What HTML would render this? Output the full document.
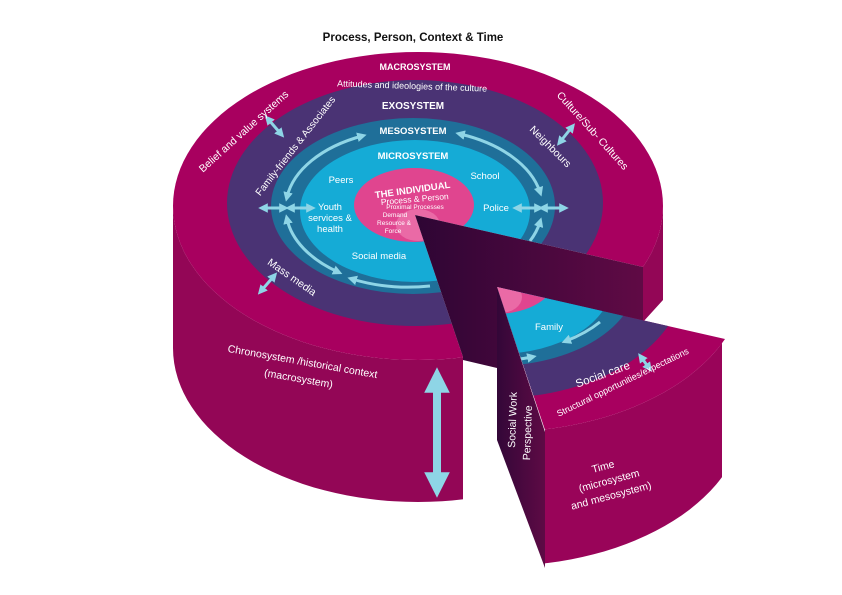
<!DOCTYPE html>
<html><head><meta charset="utf-8"><style>
html,body{margin:0;padding:0;background:#fff;}
svg{display:block;}
text{font-family:"Liberation Sans",sans-serif;fill:#fff;}
</style></head><body>
<svg width="842" height="595" viewBox="0 0 842 595" xmlns="http://www.w3.org/2000/svg">
<defs>
<marker id="ah" viewBox="0 0 10 10" refX="5" refY="5" markerWidth="3.2" markerHeight="3.2" orient="auto-start-reverse">
<path d="M0,0 L10,5 L0,10 Z" fill="#8ed5e6"/></marker>
<linearGradient id="dk" x1="0" y1="0" x2="1" y2="0"><stop offset="0" stop-color="#2e0534"/><stop offset="1" stop-color="#600a45"/></linearGradient>
<linearGradient id="dk2" x1="0" y1="0" x2="1" y2="0"><stop offset="0" stop-color="#330738"/><stop offset="1" stop-color="#5e0a45"/></linearGradient>
<clipPath id="pieceTop"><polygon points="497,287 725,339 725,480 545,480 545,430"/></clipPath>
<clipPath id="pieceSide"><polygon points="545,300 722,300 722,600 545,600"/></clipPath>
</defs>

<text x="413" y="41" text-anchor="middle" style="fill:#111;font-weight:bold;font-size:11.5px">Process, Person, Context &amp; Time</text>

<path d="M173,206 A245,154 0 0 0 663,206 L663,348 A245,154 0 0 1 173,348 Z" fill="#930656"/>
<ellipse cx="418" cy="206" rx="245" ry="154" fill="#a8005f"/>
<ellipse cx="415" cy="203" rx="188" ry="123" fill="#4a3374"/>
<ellipse cx="413" cy="206" rx="142" ry="88" fill="#1f6f99"/>
<ellipse cx="415" cy="211" rx="115" ry="71" fill="#15abd6"/>
<ellipse cx="414" cy="205" rx="60" ry="37" fill="#e0458f"/>
<ellipse cx="418" cy="225" rx="22" ry="16" fill="#ea6aa6"/>

<g fill="none" stroke="#8ed5e6" stroke-width="3">
<path d="M362,136 A128,79 0 0 0 287,197" marker-start="url(#ah)" marker-end="url(#ah)"/>
<path d="M460,134 A128,79 0 0 1 540,192" marker-start="url(#ah)" marker-end="url(#ah)"/>
<path d="M287,219 A128,79 0 0 0 338,272" marker-start="url(#ah)" marker-end="url(#ah)"/>
<path d="M430,286 A128,79 0 0 1 352,279" marker-end="url(#ah)"/>
<path d="M530,241 A128,79 0 0 0 540,222" marker-end="url(#ah)"/>
<line x1="263" y1="208" x2="284" y2="208" marker-start="url(#ah)" marker-end="url(#ah)"/>
<line x1="290" y1="208" x2="311" y2="208" marker-start="url(#ah)" marker-end="url(#ah)"/>
<line x1="517" y1="208" x2="539" y2="208" marker-start="url(#ah)" marker-end="url(#ah)"/>
<line x1="543" y1="208" x2="564" y2="208" marker-start="url(#ah)" marker-end="url(#ah)"/>
<line x1="268" y1="119" x2="281" y2="134" marker-start="url(#ah)" marker-end="url(#ah)"/>
<line x1="572" y1="127" x2="560" y2="142" marker-start="url(#ah)" marker-end="url(#ah)"/>
<line x1="274" y1="276" x2="261" y2="291" marker-start="url(#ah)" marker-end="url(#ah)"/>
</g>

<text x="415" y="70" text-anchor="middle" style="font-weight:bold;font-size:9px">MACROSYSTEM</text>
<text x="412" y="89" text-anchor="middle" transform="rotate(2 412 89)" style="font-size:9px">Attitudes and ideologies of the culture</text>
<text x="246" y="134" text-anchor="middle" transform="rotate(-42 246 134)" style="font-size:10.5px">Belief and value systems</text>
<text x="590" y="133" text-anchor="middle" transform="rotate(48 590 133)" style="font-size:10.5px">Culture/Sub- Cultures</text>
<text x="413" y="109" text-anchor="middle" style="font-weight:bold;font-size:10px">EXOSYSTEM</text>
<text x="298" y="148" text-anchor="middle" transform="rotate(-52 298 148)" style="font-size:10px">Family-friends &amp; Associates</text>
<text x="548" y="149" text-anchor="middle" transform="rotate(45 548 149)" style="font-size:10.5px">Neighbours</text>
<text x="413" y="134" text-anchor="middle" style="font-weight:bold;font-size:9.5px">MESOSYSTEM</text>
<text x="413" y="159" text-anchor="middle" style="font-weight:bold;font-size:9.5px">MICROSYSTEM</text>
<text x="341" y="183" text-anchor="middle" style="font-size:9.5px">Peers</text>
<text x="485" y="179" text-anchor="middle" style="font-size:9.5px">School</text>
<text x="330" y="210" text-anchor="middle" style="font-size:9.5px">Youth</text>
<text x="330" y="221" text-anchor="middle" style="font-size:9.5px">services &amp;</text>
<text x="330" y="232" text-anchor="middle" style="font-size:9.5px">health</text>
<text x="496" y="211" text-anchor="middle" style="font-size:9.5px">Police</text>
<text x="379" y="259" text-anchor="middle" style="font-size:9.5px">Social media</text>
<text x="413" y="193" text-anchor="middle" transform="rotate(-8 413 193)" style="font-weight:bold;font-size:9.5px">THE INDIVIDUAL</text>
<text x="415" y="202" text-anchor="middle" transform="rotate(-5 415 202)" style="font-size:8.5px">Process &amp; Person</text>
<text x="415" y="209" text-anchor="middle" style="font-size:6.5px">Proximal Processes</text>
<text x="395" y="217" text-anchor="middle" style="font-size:6.5px">Demand</text>
<text x="394" y="225" text-anchor="middle" style="font-size:6.5px">Resource &amp;</text>
<text x="393" y="233" text-anchor="middle" style="font-size:6.5px">Force</text>
<text x="290" y="280" text-anchor="middle" transform="rotate(35 290 280)" style="font-size:10.5px">Mass media</text>
<text x="302" y="365" text-anchor="middle" transform="rotate(10 302 365)" style="font-size:10.5px">Chronosystem /historical context</text>
<text x="298" y="382" text-anchor="middle" transform="rotate(10 298 382)" style="font-size:10.5px">(macrosystem)</text>

<line x1="437" y1="380" x2="437" y2="485" stroke="#8ed5e6" stroke-width="8" marker-start="url(#ah)" marker-end="url(#ah)"/>

<polygon points="415,215 643,267 643,322 663,300 710,300 710,590 463,590 463,500 463,357" fill="#fff"/>
<polygon points="643,267 663,252 663,292 643,322" fill="#930656"/>
<polygon points="415,215 643,267 643,322 497,287 497,368 463,360 463,357" fill="url(#dk)"/>

<g clip-path="url(#pieceSide)">
<path d="M255,278 A245,154 0 0 0 745,278 L745,412 A245,154 0 0 1 255,412 Z" fill="#990459"/>
</g>
<g clip-path="url(#pieceTop)">
<ellipse cx="500" cy="278" rx="245" ry="154" fill="#a8005f"/>
<ellipse cx="497" cy="275" rx="188" ry="123" fill="#4a3374"/>
<ellipse cx="495" cy="278" rx="142" ry="88" fill="#1f6f99"/>
<ellipse cx="497" cy="283" rx="115" ry="71" fill="#15abd6"/>
<ellipse cx="496" cy="277" rx="60" ry="37" fill="#e0458f"/>
<ellipse cx="500" cy="297" rx="22" ry="16" fill="#ea6aa6"/>
<g fill="none" stroke="#8ed5e6" stroke-width="3">
<path d="M600,322 A128,79 0 0 1 566,341" marker-end="url(#ah)"/>
<path d="M512,360 A128,79 0 0 0 532,357" marker-end="url(#ah)"/>
</g>
</g>
<polygon points="497,287 545,432 545,568 497,440" fill="url(#dk2)"/>
<line x1="641" y1="357" x2="649" y2="368" stroke="#8ed5e6" stroke-width="3" marker-start="url(#ah)" marker-end="url(#ah)"/>

<text x="549" y="330" text-anchor="middle" style="font-size:9.5px">Family</text>
<text x="604" y="378" text-anchor="middle" transform="rotate(-20 604 378)" style="font-size:11.5px">Social  care</text>
<text x="624" y="385" text-anchor="middle" transform="rotate(-26 624 385)" style="font-size:9px">Structural opportunities/expectations</text>
<text x="516" y="420" text-anchor="middle" transform="rotate(-88 516 420)" style="font-size:10.5px">Social Work</text>
<text x="531" y="433" text-anchor="middle" transform="rotate(-88 531 433)" style="font-size:10.5px">Perspective</text>
<text x="604" y="470" text-anchor="middle" transform="rotate(-15 604 470)" style="font-size:10.5px">Time</text>
<text x="610" y="484" text-anchor="middle" transform="rotate(-15 610 484)" style="font-size:10.5px">(microsystem</text>
<text x="612" y="499" text-anchor="middle" transform="rotate(-15 612 499)" style="font-size:10.5px">and mesosystem)</text>
</svg>
</body></html>
